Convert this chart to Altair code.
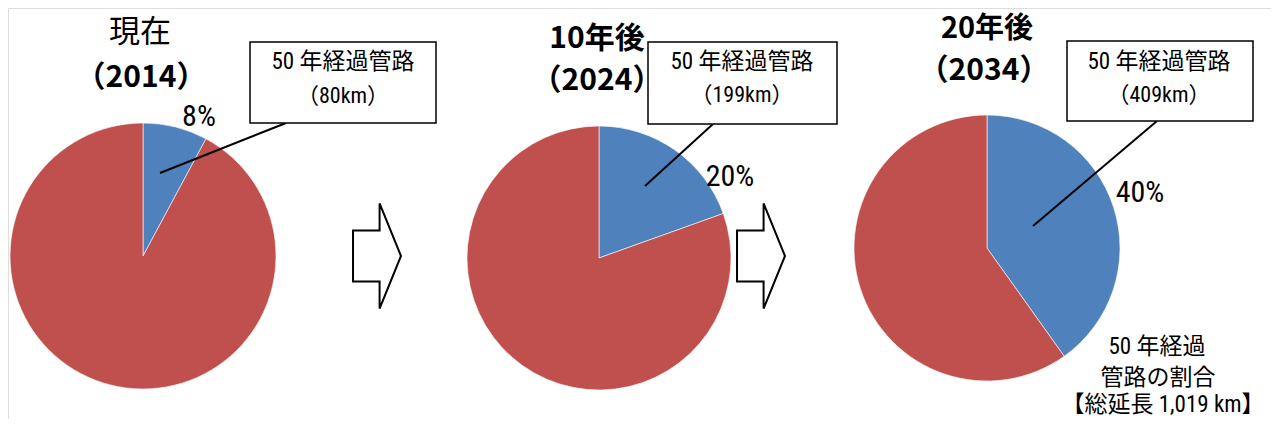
import altair as alt
import pandas as pd

# ---------------- data ----------------
years = ["2014", "2024", "2034"]
title_top = ["現在", "10年後", "20年後"]
title_bottom = ["（2014）", "（2024）", "（2034）"]
aged_km = [80, 199, 409]
total_km = 1019
segment_names = ["50年経過管路", "その他"]
box_line1 = "50 年経過管路"
note_lines = ["50 年経過", "管路の割合", "【総延長 1,019 km】"]

# ---------------- layout (page pixels) ----------------
OX, OY = 8, 8
def px(v):
    return v - OX
def py(v):
    return v - OY

CJK = "Noto Sans CJK JP"
NARROW = "Liberation Sans Narrow, Roboto Condensed, DejaVu Sans Condensed, Noto Sans CJK JP"

layout = [
    dict(cx=143, cy=256, r=133, top=(140, 33, "normal", 31), bottom=(141, 78),
         box=(250, 42, 436, 123), tx=343, l1=62, l2=96,
         lead=(160, 173, 286, 123), pct=(199, 117)),
    dict(cx=599, cy=258, r=132, top=(597, 39, "bold", 30), bottom=(597, 81),
         box=(648, 42, 837, 124), tx=742, l1=62, l2=95,
         lead=(645, 186, 713, 124), pct=(730, 177)),
    dict(cx=987, cy=248, r=133, top=(987, 29, "bold", 29), bottom=(984, 71),
         box=(1067, 41, 1253, 121), tx=1159, l1=62, l2=95,
         lead=(1033, 226, 1157, 121), pct=(1140, 193)),
]
arrows = [(377, 256), (761, 256)]
note_pos = [(1157, 347), (1158, 378), (1163, 405)]

# ---------------- tables ----------------
rows = []
for i, yr in enumerate(years):
    rows.append({"year": yr, "seg": segment_names[0], "km": aged_km[i], "ord": 0})
    rows.append({"year": yr, "seg": segment_names[1], "km": total_km - aged_km[i], "ord": 1})
pie_df = pd.DataFrame(rows)
dummy = pd.DataFrame({"k": [0]})

color_scale = alt.Scale(domain=segment_names, range=["#4F81BD", "#C0504D"])

def text_layer(txt, x, y, size, weight="normal", font=CJK):
    return alt.Chart(dummy).mark_text(
        text=txt, font=font, fontSize=size, fontWeight=weight,
        align="center", baseline="middle", color="black"
    ).encode(x=alt.value(px(x)), y=alt.value(py(y)))

layers = []
for i, L in enumerate(layout):
    pie = alt.Chart(pie_df).transform_filter(
        alt.datum.year == years[i]
    ).mark_arc(radius=L["r"], stroke="white", strokeWidth=0.6).encode(
        theta=alt.Theta("km:Q", stack=True),
        color=alt.Color("seg:N", scale=color_scale, legend=None),
        order=alt.Order("ord:Q", sort="ascending"),
        x=alt.value(px(L["cx"])),
        y=alt.value(py(L["cy"])),
    )
    layers.append(pie)

for i, L in enumerate(layout):
    # titles
    tx, ty, tw, ts = L["top"]
    layers.append(text_layer(title_top[i], tx, ty, ts, tw))
    bx, by = L["bottom"]
    layers.append(text_layer(title_bottom[i], bx, by, 30, "bold"))
    # leader line
    x1, y1, x2, y2 = L["lead"]
    layers.append(alt.Chart(dummy).mark_rule(color="black", strokeWidth=2).encode(
        x=alt.value(px(x1)), y=alt.value(py(y1)), x2=alt.value(px(x2)), y2=alt.value(py(y2))))
    # box
    a, b, c, d = L["box"]
    layers.append(alt.Chart(dummy).mark_rect(fill="white", stroke="black", strokeWidth=1.5).encode(
        x=alt.value(px(a)), y=alt.value(py(b)), x2=alt.value(px(c)), y2=alt.value(py(d))))
    layers.append(text_layer(box_line1, L["tx"], L["l1"], 23, font=NARROW))
    layers.append(text_layer(f"（{aged_km[i]}km）", L["tx"], L["l2"], 22, font=NARROW))
    # percentage
    pct = round(aged_km[i] / total_km * 100)
    layers.append(text_layer(f"{pct}%", L["pct"][0], L["pct"][1], 30, font=NARROW))

arrow_path = ("M -0.436 -0.464 L 0.047 -0.464 L 0.047 -0.955 L 0.436 0 "
              "L 0.047 0.955 L 0.047 0.464 L -0.436 0.464 Z")
for ax_, ay_ in arrows:
    layers.append(alt.Chart(dummy).mark_point(
        shape=arrow_path, size=110 * 110, filled=False, stroke="black",
        strokeWidth=2, opacity=1
    ).encode(x=alt.value(px(ax_)), y=alt.value(py(ay_))))

for txt, (nx, ny) in zip(note_lines, note_pos):
    layers.append(text_layer(txt, nx, ny, 23, font=NARROW))

chart = alt.layer(*layers).properties(
    width=1263, height=411, padding=0,
    autosize=alt.AutoSizeParams(type="none"),
).configure_view(stroke="transparent", strokeWidth=0, fill="white").configure(background="white")

chart.save("out.html", embed_options={"renderer": "svg", "actions": False})
